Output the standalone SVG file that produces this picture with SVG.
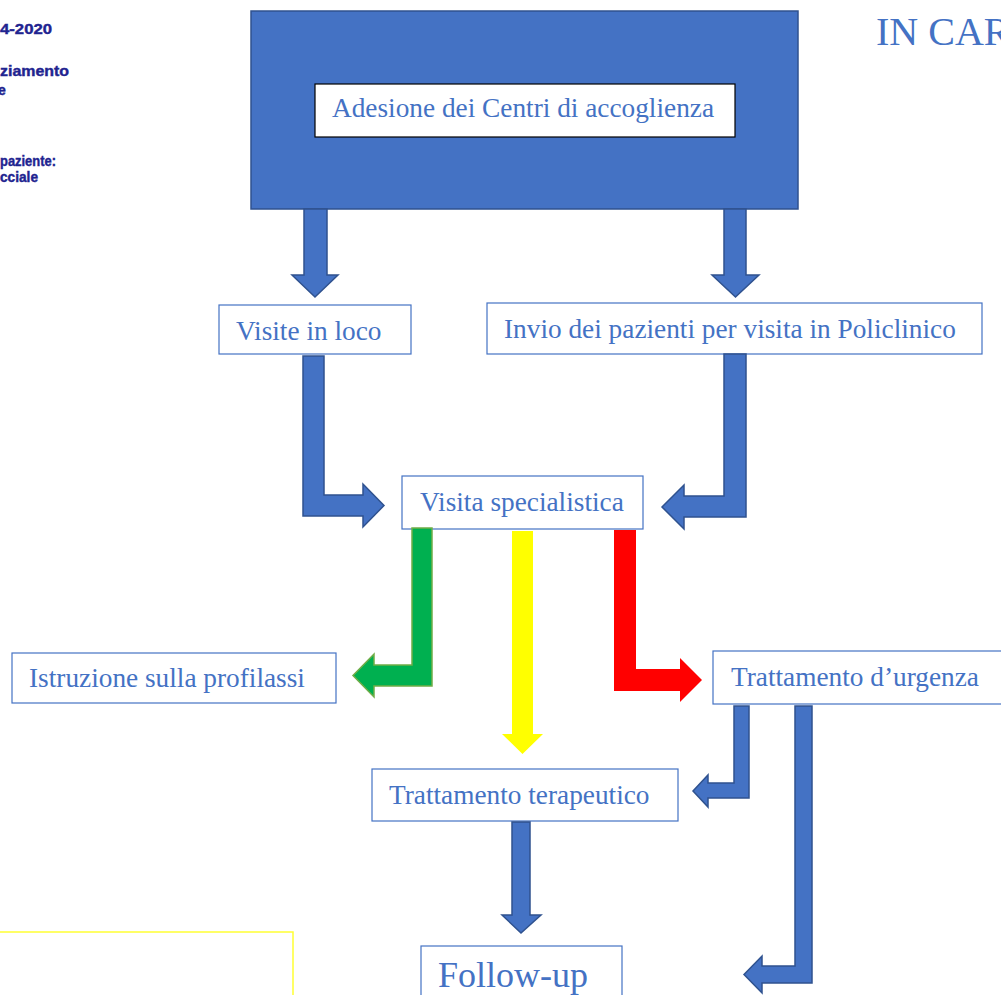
<svg xmlns="http://www.w3.org/2000/svg" width="1001" height="995" viewBox="0 0 1001 995">
<style>
.box{fill:#fff;stroke:#4472C4;stroke-width:1.2}
.lbl{font-family:"Liberation Serif","Times New Roman",serif;font-size:27.3px;fill:#4472C4}
.arr{fill:#4472C4;stroke:#2F528F;stroke-width:1.5;stroke-linejoin:miter}
.frag{font-family:"Liberation Sans",Arial,sans-serif;font-weight:bold;font-size:14px;fill:#1f2490;stroke:#1f2490;stroke-width:0.4}
</style>
<rect width="1001" height="995" fill="#fff"/>
<g id="header-fragments">
<text class="frag" x="0" y="34" textLength="52" lengthAdjust="spacingAndGlyphs">4-2020</text>
<text class="frag" x="0" y="76" textLength="69" lengthAdjust="spacingAndGlyphs">ziamento</text>
<text class="frag" x="-2" y="95">e</text>
<text class="frag" x="0" y="166" textLength="56" lengthAdjust="spacingAndGlyphs">paziente:</text>
<text class="frag" x="0" y="182" textLength="38" lengthAdjust="spacingAndGlyphs">cciale</text>
</g>
<g id="title">
<text x="876" y="45" font-family="Liberation Serif,'Times New Roman',serif" font-size="40" fill="#4472C4">IN CAR</text>
</g>
<g id="yellow-frame">
<polyline points="0,932 293,932 293,995" fill="none" stroke="#FFFF33" stroke-width="1.5"/>
</g>
<g id="node-adesione">
<rect x="251" y="11" width="547" height="198" fill="#4472C4" stroke="#2F528F" stroke-width="1.5"/>
<rect x="315" y="84" width="420" height="53" fill="#fff" stroke="#000" stroke-width="1.2"/>
<text class="lbl" x="332" y="117">Adesione dei Centri di accoglienza</text>
</g>
<g id="node-visite">
<rect class="box" x="219" y="305" width="192" height="49"/>
<text class="lbl" x="236" y="340">Visite in loco</text>
</g>
<g id="node-invio">
<rect class="box" x="487" y="303" width="495" height="51"/>
<text class="lbl" x="504" y="338">Invio dei pazienti per visita in Policlinico</text>
</g>
<g id="node-visita">
<rect class="box" x="402" y="476" width="241" height="53"/>
<text class="lbl" x="420" y="511">Visita specialistica</text>
</g>
<g id="node-istruzione">
<rect class="box" x="12" y="653" width="324" height="50"/>
<text class="lbl" x="29" y="687">Istruzione sulla profilassi</text>
</g>
<g id="node-urgenza">
<rect class="box" x="713" y="651" width="300" height="53"/>
<text class="lbl" x="731" y="686">Trattamento d’urgenza</text>
</g>
<g id="node-terapeutico">
<rect class="box" x="372" y="769" width="306" height="52"/>
<text class="lbl" x="389" y="804">Trattamento terapeutico</text>
</g>
<g id="node-followup">
<rect class="box" x="421" y="946" width="201" height="60"/>
<text x="438" y="987" font-family="Liberation Serif,'Times New Roman',serif" font-size="36" fill="#4472C4">Follow-up</text>
</g>
<g id="connectors">
<polygon class="arr" points="304,209 327,209 327,275 338,275 315,297 292,275 304,275"/>
<polygon class="arr" points="724,209 746,209 746,275 759,275 735.5,297 712,275 724,275"/>
<polygon class="arr" points="303,356 324,356 324,495 363,495 363,484 384,505.5 363,527 363,516 303,516"/>
<polygon class="arr" points="724,354 746,354 746,517 684,517 684,529 662,507 684,485 684,496 724,496"/>
<polygon points="412,528 432,528 432,686 374,686 374,697 353,675.5 374,654 374,665 412,665" fill="#00B050" stroke="#70AD47" stroke-width="1.5"/>
<polygon points="512,531 533,531 533,734 543,734 522.5,754 502,734 512,734" fill="#FFFF00"/>
<polygon points="614,530 636,530 636,669 680,669 680,658 702,680 680,702 680,691 614,691" fill="#FF0000"/>
<polygon class="arr" points="734,706 749,706 749,798 708,798 708,807 693,791 708,775 708,783 734,783"/>
<polygon class="arr" points="795,706 812,706 812,983 762,983 762,993 744,974.5 762,956 762,966 795,966"/>
<polygon class="arr" points="512,822 530,822 530,915 541,915 521,933 502,915 512,915"/>
</g>
</svg>
